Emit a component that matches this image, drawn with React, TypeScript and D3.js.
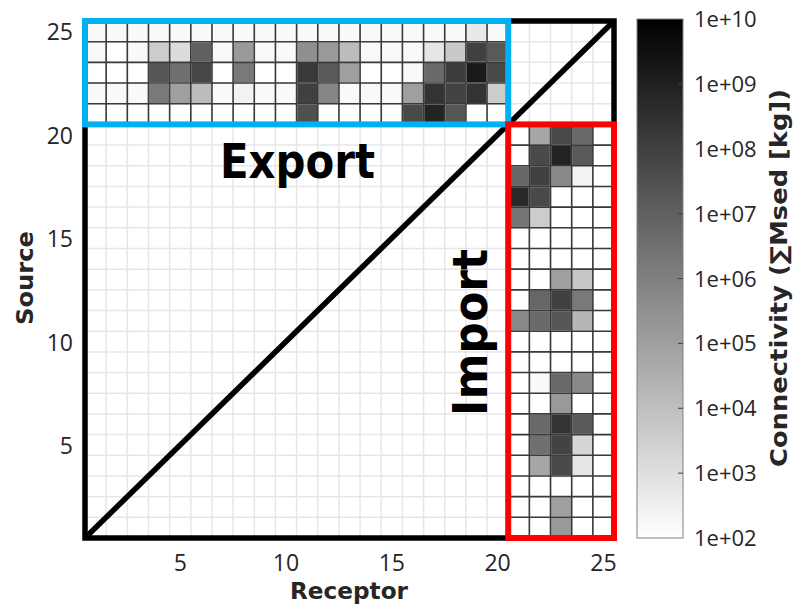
import React from "react";
import * as d3 from "d3";

// Source–receptor sediment connectivity, log10 of summed Msed [kg]; 0 = no transfer
const receptors = d3.range(1, 26);
const sources = d3.range(1, 26);

// Export block: sources 25 → 21 (rows), receptors 1 → 20 (columns)
const exportSources = [25, 24, 23, 22, 21];
const exportLog10 = [
  [2.2, 2.2, 2.2, 2.2, 2.2, 2.2, 2.2, 2.2, 2.2, 2.2, 2.2, 2.2, 2.2, 2.2, 2.2, 2.2, 2.2, 2.2, 2.7, 2.2],
  [2.2, 0, 2.2, 3.6, 3.1, 7.0, 2.2, 5.2, 2.2, 2.2, 5.5, 5.2, 4.1, 2.2, 2.2, 2.2, 2.8, 3.7, 8.0, 7.2],
  [0, 0, 0, 7.3, 6.5, 7.8, 0, 6.2, 0, 0, 8.2, 7.2, 5.0, 0, 0, 2.2, 6.7, 8.1, 9.2, 7.7],
  [2.2, 2.2, 2.2, 6.2, 5.0, 4.1, 2.2, 2.4, 2.2, 2.2, 8.0, 5.8, 2.2, 2.2, 2.2, 5.0, 8.4, 7.9, 8.4, 3.6],
  [0, 0, 0, 0, 0, 0, 0, 0, 0, 0, 7.5, 0, 0, 0, 0, 7.7, 8.9, 7.3, 0, 0],
];

// Import block: sources 20 → 1 (rows), receptors 21 → 25 (columns)
const importSources = d3.range(20, 0, -1);
const importLog10 = [
  [0, 4.8, 7.7, 6.7, 0],
  [0, 7.7, 8.9, 7.2, 0],
  [6.8, 8.0, 5.7, 2.4, 0],
  [8.7, 7.7, 0, 0, 0],
  [6.3, 3.6, 0, 0, 0],
  [0, 0, 0, 0, 0],
  [0, 0, 0, 0, 0],
  [0, 0, 5.0, 3.8, 0],
  [0, 6.8, 8.0, 6.2, 0],
  [5.7, 6.7, 7.3, 4.3, 0],
  [0, 0, 0, 0, 0],
  [0, 0, 0, 0, 0],
  [0, 2.2, 6.7, 5.7, 0],
  [0, 0, 5.2, 0, 0],
  [0, 6.7, 8.4, 7.2, 0],
  [0, 6.5, 7.9, 3.3, 0],
  [0, 4.8, 7.7, 2.8, 0],
  [0, 0, 0, 0, 0],
  [0, 0, 5.0, 0, 0],
  [0, 0, 5.2, 0, 0],
];

const axisTicks = [5, 10, 15, 20, 25];
const colorTicks = [1e2, 1e3, 1e4, 1e5, 1e6, 1e7, 1e8, 1e9, 1e10];

const TICK_FONT = "'Open Sans', sans-serif";
const LABEL_FONT = "'DejaVu Sans', Verdana, sans-serif";

export default function App() {
  const x = d3.scaleLinear().domain([0.5, 25.5]).range([85, 614]);
  const y = d3.scaleLinear().domain([0.5, 25.5]).range([538, 21]);
  const color = d3
    .scaleLog<string>()
    .domain([1e2, 1e10])
    .range(["#ffffff", "#000000"])
    .interpolate(d3.interpolateRgb)
    .clamp(true);
  const cbar = d3.scaleLog().domain([1e2, 1e10]).range([538, 19]);
  const cbX0 = 637;
  const cbX1 = 683;

  type Cell = { s: number; r: number; e: number };
  const cells: Cell[] = [];
  exportSources.forEach((s, i) =>
    exportLog10[i].forEach((e, j) => cells.push({ s, r: j + 1, e }))
  );
  importSources.forEach((s, i) =>
    importLog10[i].forEach((e, j) => cells.push({ s, r: 21 + j, e }))
  );

  const bounds = d3.range(0, 26).map((k) => k + 0.5);
  const fmt = (t: number) => "1e+" + String(Math.round(Math.log10(t))).padStart(2, "0");
  const gradStops = d3.range(0, 1.0001, 0.125);

  return (
    <svg
      width={803}
      height={606}
      viewBox="0 0 803 606"
      style={{ position: "absolute", left: 0, top: 0, background: "#fff" }}
    >
      <defs>
        <linearGradient id="cbGrad" x1="0" y1="1" x2="0" y2="0">
          {gradStops.map((p) => (
            <stop key={p} offset={p} stopColor={color(Math.pow(10, 2 + 8 * p))} />
          ))}
        </linearGradient>
      </defs>

      {/* cells */}
      <rect x={x(0.5)} y={y(25.5)} width={x(25.5) - x(0.5)} height={y(0.5) - y(25.5)} fill="#fff" />
      {cells
        .filter((c) => c.e > 0)
        .map((c) => (
          <rect
            key={`${c.s}-${c.r}`}
            x={x(c.r - 0.5)}
            y={y(c.s + 0.5)}
            width={x(c.r + 0.5) - x(c.r - 0.5)}
            height={y(c.s - 0.5) - y(c.s + 0.5)}
            fill={color(Math.pow(10, c.e))}
          />
        ))}

      {/* light grid over the full matrix */}
      <g stroke="#e6e6e6" strokeWidth={1.5}>
        {bounds.map((b) => (
          <line key={`gv${b}`} x1={x(b)} x2={x(b)} y1={y(0.5)} y2={y(25.5)} />
        ))}
        {bounds.map((b) => (
          <line key={`gh${b}`} x1={x(0.5)} x2={x(25.5)} y1={y(b)} y2={y(b)} />
        ))}
      </g>

      {/* dark grid inside export and import blocks */}
      <g stroke="#3a3a3a" strokeWidth={1.6}>
        {bounds.filter((b) => b <= 20.5).map((b) => (
          <line key={`ev${b}`} x1={x(b)} x2={x(b)} y1={y(20.5)} y2={y(25.5)} />
        ))}
        {bounds.filter((b) => b >= 20.5).map((b) => (
          <line key={`eh${b}`} x1={x(0.5)} x2={x(20.5)} y1={y(b)} y2={y(b)} />
        ))}
        {bounds.filter((b) => b >= 20.5).map((b) => (
          <line key={`iv${b}`} x1={x(b)} x2={x(b)} y1={y(0.5)} y2={y(20.5)} />
        ))}
        {bounds.filter((b) => b <= 20.5).map((b) => (
          <line key={`ih${b}`} x1={x(20.5)} x2={x(25.5)} y1={y(b)} y2={y(b)} />
        ))}
      </g>

      {/* frame and diagonal */}
      <rect
        x={x(0.5)}
        y={y(25.5)}
        width={x(25.5) - x(0.5)}
        height={y(0.5) - y(25.5)}
        fill="none"
        stroke="#000"
        strokeWidth={5.5}
      />
      <line x1={x(0.5)} y1={y(0.5)} x2={x(25.5)} y2={y(25.5)} stroke="#000" strokeWidth={5.5} />

      {/* export / import outlines */}
      <rect
        x={x(0.5)}
        y={y(25.5)}
        width={x(20.5) - x(0.5)}
        height={y(20.5) - y(25.5)}
        fill="none"
        stroke="#00b0f0"
        strokeWidth={6}
      />
      <rect
        x={x(20.5)}
        y={y(20.5)}
        width={x(25.5) - x(20.5)}
        height={y(0.5) - y(20.5)}
        fill="none"
        stroke="#ff0000"
        strokeWidth={6}
      />

      {/* block labels */}
      <text
        x={220}
        y={178}
        fontFamily={LABEL_FONT}
        fontWeight="bold"
        fontSize={48}
        textLength={155}
        lengthAdjust="spacingAndGlyphs"
        fill="#000"
      >
        Export
      </text>
      <text
        transform="translate(487,416) rotate(-90)"
        fontFamily={LABEL_FONT}
        fontWeight="bold"
        fontSize={48}
        textLength={167}
        lengthAdjust="spacingAndGlyphs"
        fill="#000"
      >
        Import
      </text>

      {/* axis ticks */}
      <g fontFamily={TICK_FONT} fontSize={23} fill="#262626">
        {axisTicks.map((t) => (
          <text key={`yt${t}`} x={73} y={y(t) + 9} textAnchor="end">
            {t}
          </text>
        ))}
        {axisTicks.map((t) => (
          <text key={`xt${t}`} x={x(t)} y={571} textAnchor="middle">
            {t}
          </text>
        ))}
      </g>

      {/* axis titles */}
      <text
        x={349}
        y={599}
        textAnchor="middle"
        fontFamily={LABEL_FONT}
        fontWeight="bold"
        fontSize={23}
        textLength={118}
        lengthAdjust="spacingAndGlyphs"
        fill="#262626"
      >
        Receptor
      </text>
      <text
        transform="translate(33,278) rotate(-90)"
        textAnchor="middle"
        fontFamily={LABEL_FONT}
        fontWeight="bold"
        fontSize={23}
        textLength={94}
        lengthAdjust="spacingAndGlyphs"
        fill="#262626"
      >
        Source
      </text>

      {/* colour bar */}
      <rect
        x={cbX0}
        y={cbar(1e10)}
        width={cbX1 - cbX0}
        height={cbar(1e2) - cbar(1e10)}
        fill="url(#cbGrad)"
        stroke="#808080"
        strokeWidth={1}
      />
      <g stroke="#404040" strokeWidth={1}>
        {colorTicks.slice(1, -1).map((t) => (
          <line key={`ct${t}`} x1={cbX1 - 5} x2={cbX1} y1={cbar(t)} y2={cbar(t)} />
        ))}
      </g>
      <g fontFamily={TICK_FONT} fontSize={22} fill="#262626">
        {colorTicks.map((t) => (
          <text key={`cl${t}`} x={694} y={cbar(t) + 8}>
            {fmt(t)}
          </text>
        ))}
      </g>
      <text
        transform="translate(787,278) rotate(-90)"
        textAnchor="middle"
        fontFamily={LABEL_FONT}
        fontWeight="bold"
        fontSize={23}
        textLength={378}
        lengthAdjust="spacingAndGlyphs"
        fill="#262626"
      >
        Connectivity (∑Msed [kg])
      </text>
    </svg>
  );
}
